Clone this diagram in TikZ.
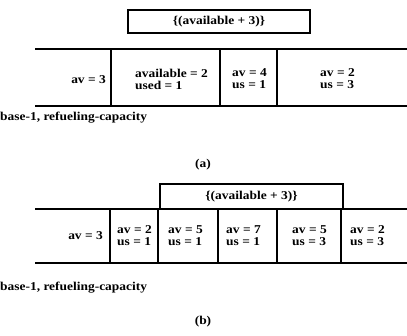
\documentclass[tikz,border=0pt]{standalone}
\usepackage{fontspec}
\setmainfont[FakeStretch=1.12]{Liberation Serif}
\begin{document}
\begin{tikzpicture}[x=1pt,y=-1pt,
  txt/.style={font=\bfseries\fontsize{12}{12}\selectfont, inner sep=0pt},
  cell/.style={txt, align=left, anchor=west},
  rule/.style={line width=1.3pt},
  vbar/.style={line width=1.2pt},
  topbox/.style={draw, line width=1.2pt, txt}]
\useasboundingbox (0,0) rectangle (407,335);
% ---------- (a) ----------
\node[topbox, minimum width=182pt, minimum height=23pt] (ta) at (219,21.5) {\{(available + 3)\}};
\draw[rule] (35,49) -- (407,49);
\draw[rule] (35,106) -- (407,106);
\coordinate (a1t) at (111,49); \coordinate (a1b) at (111,106);
\coordinate (a2t) at (220,49); \coordinate (a2b) at (220,106);
\coordinate (a3t) at (277,49); \coordinate (a3b) at (277,106);
\draw[vbar] (a1t) -- (a1b) (a2t) -- (a2b) (a3t) -- (a3b);
\node[txt, anchor=east] (a0) at (106,80) {av = 3};
\node[cell] (a1) at (135,79) {available = 2\\used = 1};
\node[cell] (a2) at (232,79) {av = 4\\us = 1};
\node[cell] (a3) at (320,79) {av = 2\\us = 3};
\node[txt, anchor=west] (la) at (0,118) {base-1, refueling-capacity};
\node[txt] (capa) at (203,165) {(a)};
% ---------- (b) ----------
\node[topbox, minimum width=183pt, minimum height=25pt] (tb) at (251.5,196.5) {\{(available + 3)\}};
\draw[rule] (35,209) -- (407,209);
\draw[rule] (35,263) -- (407,263);
\foreach \x/\n in {110/1,158/2,218/3,277/4,341/5}{
  \coordinate (b\n t) at (\x,209); \coordinate (b\n b) at (\x,263);
  \draw[vbar] (b\n t) -- (b\n b);
}
\node[txt, anchor=east] (b0) at (103,236) {av = 3};
\node[cell] (b1) at (117,236) {av = 2\\us = 1};
\node[cell] (b2) at (168,236) {av = 5\\us = 1};
\node[cell] (b3) at (226,236) {av = 7\\us = 1};
\node[cell] (b4) at (292,236) {av = 5\\us = 3};
\node[cell] (b5) at (350,236) {av = 2\\us = 3};
\node[txt, anchor=west] (lb) at (0,288) {base-1, refueling-capacity};
\node[txt] (capb) at (203,322) {(b)};
\end{tikzpicture}
\end{document}
